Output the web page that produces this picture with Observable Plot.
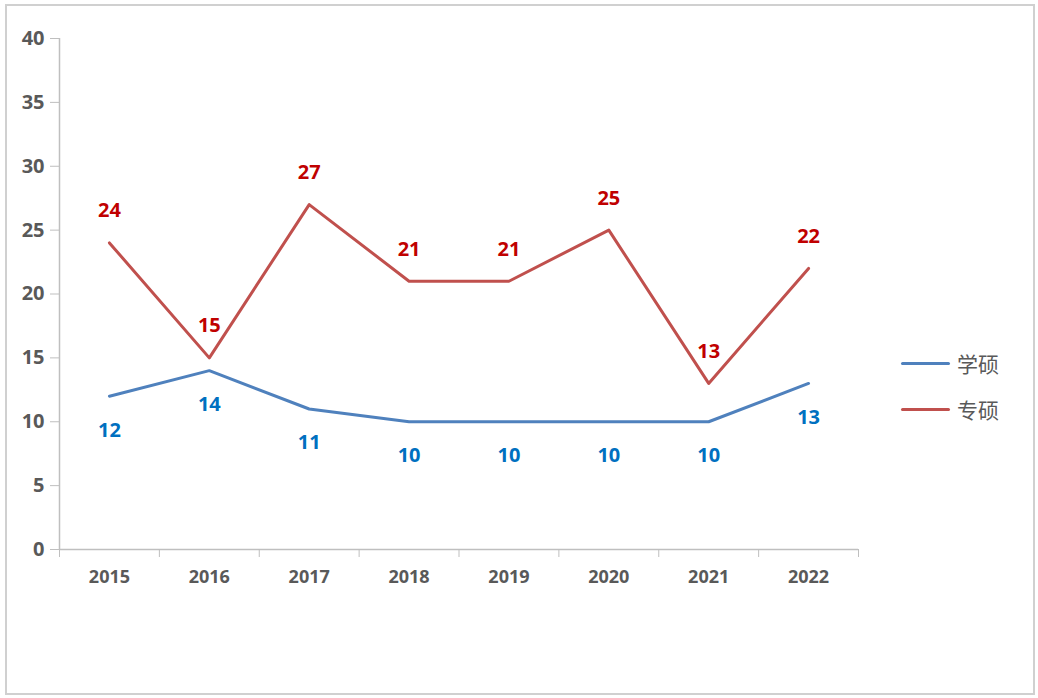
<!DOCTYPE html>
<html>
<head>
<meta charset="utf-8">
<script src="https://cdn.jsdelivr.net/npm/d3@7"></script>
<script src="https://cdn.jsdelivr.net/npm/@observablehq/plot@0.6"></script>
<style>
  html, body { margin: 0; padding: 0; background: #fff; }
  #wrap { position: relative; width: 1038px; height: 698px; overflow: hidden; }
  #border { position: absolute; left: 5px; top: 4px; width: 1026px; height: 687px; border: 2px solid #d0d0d0; box-sizing: content-box; }
  #chart { position: absolute; left: 0; top: 0; }
  .leg { position: absolute; left: 901px; font-family: "Noto Sans CJK SC", sans-serif; font-size: 21px; color: #595959; display: flex; align-items: center; height: 26px; }
  .leg span.sw { display: inline-block; width: 49px; height: 3px; border-radius: 2px; margin-right: 7px; }
</style>
</head>
<body>
<div id="wrap">
  <div id="border"></div>
  <div id="chart"></div>
  <div class="leg" style="top:350px"><span class="sw" style="background:#4F81BD"></span>学硕</div>
  <div class="leg" style="top:396px"><span class="sw" style="background:#C0504D"></span>专硕</div>
</div>
<script>
const years = [2015, 2016, 2017, 2018, 2019, 2020, 2021, 2022];
const xueshuo = [12, 14, 11, 10, 10, 10, 10, 13];
const zhuanshuo = [24, 15, 27, 21, 21, 25, 13, 22];
const yTicks = [0, 5, 10, 15, 20, 25, 30, 35, 40];

const blue = years.map((y, i) => ({year: y, v: xueshuo[i]}));
const red = years.map((y, i) => ({year: y, v: zhuanshuo[i]}));
const bounds = [years[0] - 0.5, ...years.map(y => y + 0.5)];

const axisColor = "#bfbfbf";
const textColor = "#595959";

const plot = Plot.plot({
  width: 1038,
  height: 698,
  marginLeft: 59,
  marginRight: 180,
  marginTop: 38,
  marginBottom: 149,
  style: {fontFamily: "'Open Sans', sans-serif", background: "transparent", overflow: "visible"},
  x: {type: "linear", domain: [years[0] - 0.5, years[years.length - 1] + 0.5]},
  y: {domain: [0, 40]},
  marks: [
    Plot.ruleX([bounds[0]], {stroke: axisColor, strokeWidth: 1.5}),
    Plot.ruleY([0], {stroke: axisColor, strokeWidth: 1.5}),
    Plot.axisY({ticks: yTicks, tickSize: 9, tickPadding: 6, stroke: axisColor, fill: textColor, fontSize: 20, fontWeight: "bold", label: null}),
    Plot.axisX({ticks: bounds, tickSize: 8, stroke: axisColor, tickFormat: () => "", label: null}),
    Plot.axisX({ticks: years, tickSize: 0, tickPadding: 21, fill: textColor, fontSize: 18, fontWeight: "bold", tickFormat: d => String(d), label: null}),
    Plot.line(blue, {x: "year", y: "v", stroke: "#4F81BD", strokeWidth: 3}),
    Plot.line(red, {x: "year", y: "v", stroke: "#C0504D", strokeWidth: 3}),
    Plot.text(blue, {x: "year", y: "v", text: d => String(d.v), dy: 34, fill: "#0070C0", fontSize: 20, fontWeight: "bold"}),
    Plot.text(red, {x: "year", y: "v", text: d => String(d.v), dy: -32, fill: "#C00000", fontSize: 20, fontWeight: "bold"})
  ]
});
document.getElementById("chart").appendChild(plot);
</script>
</body>
</html>
